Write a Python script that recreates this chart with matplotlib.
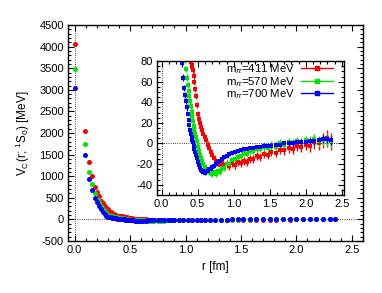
import matplotlib
matplotlib.use('Agg')
import matplotlib.pyplot as plt
from matplotlib.lines import Line2D
from matplotlib.ticker import MultipleLocator

plt.rcParams['font.family'] = ['Liberation Sans', 'DejaVu Sans']
plt.rcParams['mathtext.fontset'] = 'custom'
plt.rcParams['mathtext.rm'] = 'Liberation Sans'
plt.rcParams['mathtext.it'] = 'Liberation Sans:italic'
plt.rcParams['axes.unicode_minus'] = False

# distances r [fm]
r = [0.0, 0.091, 0.128, 0.157, 0.181, 0.203, 0.222, 0.240, 0.257, 0.272,
     0.287, 0.301, 0.314, 0.327, 0.339, 0.351, 0.363, 0.374, 0.385, 0.396,
     0.406, 0.416, 0.426, 0.436, 0.445, 0.454, 0.463, 0.472, 0.485, 0.50,
     0.515, 0.53, 0.545, 0.56, 0.58, 0.60, 0.62, 0.64, 0.66, 0.68,
     0.70, 0.72, 0.75, 0.78, 0.81, 0.84, 0.87, 0.90, 0.94, 0.98,
     1.02, 1.06, 1.10, 1.14, 1.18, 1.22, 1.27, 1.32, 1.37, 1.42,
     1.47, 1.52, 1.58, 1.64, 1.70, 1.76, 1.82, 1.88, 1.94, 2.00,
     2.06, 2.12, 2.18, 2.24, 2.30, 2.35]

# V_C(r) [MeV] for m_pi = 411 MeV
v411 = [4050, 2050, 1330, 1000, 760, 630, 540, 420, 370, 320,
        270, 230, 195, 165, 140, 120, 105, 96, 89, 83,
        79, 76, 74, 71, 66, 60, 53, 46, 37, 29,
        24, 20, 16, 13, 9, 6, 3, -1, -4, -8,
        -11, -14, -17, -19, -21, -19, -22, -20, -22, -19,
        -21, -18, -19, -17, -18, -15, -15, -12, -13, -10,
        -11, -8, -9, -6, -6, -4, -5, -2, -3, -1,
        -2, 1, 0, 3, 5, 2]
e411 = [40, 25, 18, 14, 12, 10, 9, 8, 7, 6,
        6, 5, 5, 5, 4, 4, 4, 4, 4, 4,
        3, 3, 3, 3, 3, 3, 3, 3, 3, 3,
        3, 3, 3, 3, 3, 3, 3, 3, 3, 3,
        3, 3, 3, 3, 3, 4, 4, 4, 4, 4,
        4, 4, 4, 4, 4, 4, 4, 4, 4, 4,
        4, 4, 4, 4, 5, 5, 5, 5, 5, 5,
        6, 6, 6, 7, 8, 8]

# m_pi = 570 MeV
v570 = [3480, 1750, 1100, 810, 600, 480, 400, 300, 240, 185,
        140, 110, 92, 82, 72, 64, 57, 51, 46, 41,
        36, 31, 27, 22, 17, 13, 9, 6, 2, -3,
        -7, -11, -14, -17, -20, -23, -25, -27, -28, -29,
        -30, -28, -30, -27, -28, -24, -24, -20, -20, -16,
        -15, -13, -12, -9, -10, -7, -7, -5, -5, -3,
        -4, -2, -3, 0, -1, 1, 0, 2, 1, 3,
        2, 4, 2, 3, 4, 2]
e570 = [30, 20, 15, 12, 10, 8, 7, 6, 6, 5,
        5, 4, 4, 4, 3, 3, 3, 3, 3, 3,
        3, 3, 3, 3, 3, 3, 3, 3, 3, 3,
        3, 3, 3, 3, 3, 3, 3, 3, 3, 3,
        3, 3, 3, 3, 3, 3, 3, 3, 3, 3,
        3, 3, 3, 3, 3, 3, 3, 3, 3, 4,
        4, 4, 4, 4, 4, 4, 4, 4, 4, 4,
        5, 5, 5, 5, 6, 6]

# m_pi = 700 MeV
v700 = [3040, 1500, 940, 690, 490, 400, 320, 230, 170, 120,
        78, 64, 54, 47, 41, 35, 29, 23, 18, 13,
        9, 6, 3, 1, -2, -5, -8, -11, -14, -18,
        -21, -24, -26, -27, -28, -29, -27, -27, -25, -25,
        -23, -22, -20, -18, -17, -15, -13, -12, -10, -9,
        -8, -7, -6, -5, -5, -4, -4, -3, -3, -2,
        -2, -2, -1, -1, 0, 0, 0, 1, 1, 1,
        2, 2, 3, 4, 4, 3]
e700 = [25, 15, 12, 10, 8, 6, 5, 5, 4, 4,
        4, 3, 3, 3, 3, 3, 2, 2, 2, 2,
        2, 2, 2, 2, 2, 2, 2, 2, 2, 2,
        2, 2, 2, 2, 2, 2, 2, 2, 2, 2,
        2, 2, 2, 2, 2, 2, 2, 2, 2, 2,
        2, 2, 2, 2, 2, 2, 2, 2, 2, 2,
        2, 2, 2, 2, 2, 2, 3, 3, 3, 3,
        3, 3, 3, 4, 4, 4]

labels = ['m$_\\pi$=411 MeV', 'm$_\\pi$=570 MeV', 'm$_\\pi$=700 MeV']
colors = ['#ff0000', '#00e600', '#0000ff']
series = [(v411, e411), (v570, e570), (v700, e700)]


def style_axes(a):
    a.tick_params(which='both', direction='in', top=True, right=True,
                  labelsize=8, width=0.8, pad=3)
    a.tick_params(which='major', length=4)
    a.tick_params(which='minor', length=2)
    for s in a.spines.values():
        s.set_linewidth(1.0)
    a.axhline(0, color='k', ls=':', lw=0.6, zorder=0)
    a.axvline(0, color='k', ls=':', lw=0.6, zorder=0)


fig = plt.figure(figsize=(3.82, 2.93), dpi=100)

# main plot
ax = fig.add_axes([0.178, 0.1775, 0.772, 0.737])
for (v, e), c in zip(series, colors):
    ax.plot(r, v, 'o', color=c, ms=3.6, mew=0)
ax.set_xlim(-0.06, 2.6)
ax.set_ylim(-500, 4500)
ax.xaxis.set_major_locator(MultipleLocator(0.5))
ax.xaxis.set_minor_locator(MultipleLocator(0.1))
ax.yaxis.set_major_locator(MultipleLocator(500))
ax.yaxis.set_minor_locator(MultipleLocator(100))
style_axes(ax)
ax.set_xlabel('r [fm]', fontsize=8.5, labelpad=4)
ax.set_ylabel('V$_{\\rm C}$(r; $^{1}$S$_{0}$) [MeV]', fontsize=8.5, labelpad=5)

# inset
axi = fig.add_axes([0.411, 0.3345, 0.4895, 0.457])
for (v, e), c in zip(series, colors):
    axi.errorbar(r, v, yerr=e, fmt='s', color=c, ms=2.6, mew=0,
                 elinewidth=1.0, capsize=1.5, capthick=0.8)
axi.set_xlim(-0.065, 2.53)
axi.set_ylim(-50, 80)
axi.xaxis.set_major_locator(MultipleLocator(0.5))
axi.xaxis.set_minor_locator(MultipleLocator(0.1))
axi.yaxis.set_major_locator(MultipleLocator(20))
axi.yaxis.set_minor_locator(MultipleLocator(5))
style_axes(axi)

handles = [Line2D([], [], color=c, marker='s', ms=2.5, lw=1) for c in colors]
axi.legend(handles, labels, loc='upper right', bbox_to_anchor=(0.94, 0.99),
           frameon=False, markerfirst=False, fontsize=8.2, handlelength=2.8,
           labelspacing=-0.12, handletextpad=0.5, borderaxespad=0.0,
           borderpad=0.0)

fig.savefig('out.png', dpi=100)
